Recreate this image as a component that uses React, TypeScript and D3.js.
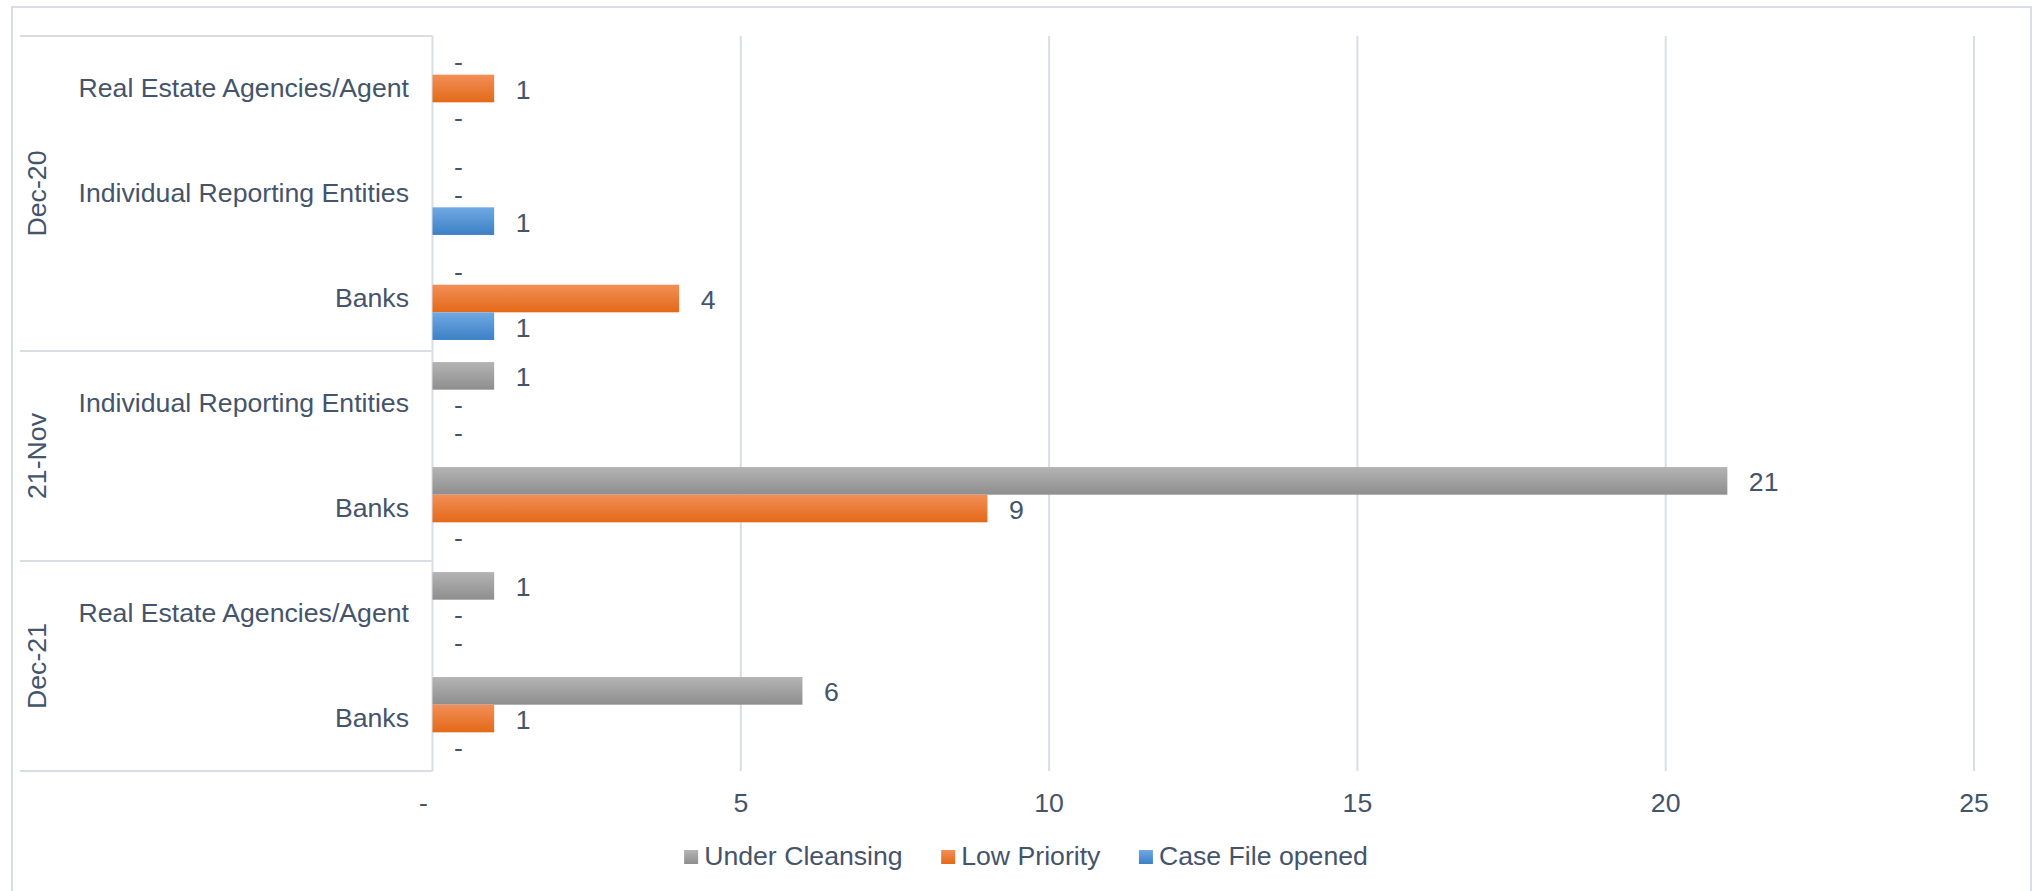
import React from "react";
import * as d3 from "d3";

const groups = ["Dec-20", "Dec-20", "Dec-20", "21-Nov", "21-Nov", "Dec-21", "Dec-21"];
const subCategories = [
  "Real Estate Agencies/Agent",
  "Individual Reporting Entities",
  "Banks",
  "Individual Reporting Entities",
  "Banks",
  "Real Estate Agencies/Agent",
  "Banks",
];
const underCleansing = [0, 0, 0, 1, 21, 1, 6];
const lowPriority = [1, 0, 4, 0, 9, 0, 1];
const caseFileOpened = [0, 1, 1, 0, 0, 0, 0];
const seriesNames = ["Under Cleansing", "Low Priority", "Case File opened"];
const xTicks = [0, 5, 10, 15, 20, 25];

const W = 2038;
const H = 891;
const FONT = "'Liberation Sans', Arial, Helvetica, sans-serif";
const FS = 26.67;
const TEXT = "#44546A";
const LINE = "#D9DEE5";

const gradients = [
  { id: "gUC", top: "#B4B4B4", bottom: "#8E8E8E" },
  { id: "gLP", top: "#F28F57", bottom: "#E36918" },
  { id: "gCF", top: "#70A9E3", bottom: "#3C80C6" },
];

function measure(text: string): number {
  if (typeof document === "undefined") return text.length * FS * 0.5;
  const c = document.createElement("canvas").getContext("2d");
  if (!c) return text.length * FS * 0.5;
  c.font = `${FS}px ${FONT}`;
  return c.measureText(text).width;
}

export default function App() {
  const plotTop = 36;
  const plotBottom = 771;
  const x = d3.scaleLinear().domain([0, 25]).range([432.5, 1974]);
  const idx = d3.range(subCategories.length).map(String);
  const y = d3.scaleBand().domain(idx).range([plotTop, plotBottom]).padding(0);
  const inner = d3
    .scaleBand()
    .domain(seriesNames)
    .range([0, y.bandwidth()])
    .paddingInner(0)
    .paddingOuter(0.4);

  const seriesValues = [underCleansing, lowPriority, caseFileOpened];

  // group spans
  const groupSpans: { name: string; start: number; end: number }[] = [];
  groups.forEach((g, i) => {
    const last = groupSpans[groupSpans.length - 1];
    if (last && last.name === g) last.end = i;
    else groupSpans.push({ name: g, start: i, end: i });
  });
  const sepYs = [plotTop, ...groupSpans.map((s) => (y(String(s.end)) as number) + y.bandwidth())];

  // legend layout
  const sq = 14;
  const sqGap = 6;
  const itemGap = 38.5;
  const widths = seriesNames.map((n) => measure(n));
  const total = widths.reduce((a, w) => a + sq + sqGap + w, 0) + itemGap * (seriesNames.length - 1);
  let lx = 1026 - total / 2;
  const legendItems = seriesNames.map((n, i) => {
    const item = { name: n, x: lx, grad: gradients[i].id };
    lx += sq + sqGap + widths[i] + itemGap;
    return item;
  });

  return (
    <svg
      width={W}
      height={H}
      style={{ position: "absolute", left: 0, top: 0, background: "#fff" }}
      fontFamily={FONT}
      fontSize={FS}
    >
      <defs>
        {gradients.map((g) => (
          <linearGradient key={g.id} id={g.id} x1="0" y1="0" x2="0" y2="1">
            <stop offset="0" stopColor={g.top} />
            <stop offset="1" stopColor={g.bottom} />
          </linearGradient>
        ))}
      </defs>
      <rect x={0} y={0} width={W} height={H} fill="#fff" />
      {/* outer chart border */}
      <rect x={12} y={7} width={2019} height={890} fill="none" stroke={LINE} strokeWidth={2} />

      {/* gridlines */}
      {xTicks.slice(1).map((t) => (
        <line key={t} x1={x(t)} x2={x(t)} y1={plotTop} y2={plotBottom} stroke={LINE} strokeWidth={2} />
      ))}
      {/* category axis line */}
      <line x1={x(0)} x2={x(0)} y1={plotTop} y2={plotBottom} stroke={LINE} strokeWidth={2} />
      {/* group separators */}
      {sepYs.map((sy, i) => (
        <line key={i} x1={20} x2={x(0)} y1={sy} y2={sy} stroke={LINE} strokeWidth={2} />
      ))}

      {/* bars */}
      {subCategories.map((_, ci) =>
        seriesNames.map((s, si) => {
          const v = seriesValues[si][ci];
          const by = (y(String(ci)) as number) + (inner(s) as number);
          const bh = inner.bandwidth();
          return (
            <g key={`${ci}-${si}`}>
              {v > 0 && (
                <rect x={x(0)} y={by} width={x(v) - x(0)} height={bh} fill={`url(#${gradients[si].id})`} />
              )}
              <text x={x(v) + 21.5} y={by + bh / 2} dy="0.39em" fill={TEXT} textAnchor="start">
                {v === 0 ? "-" : String(v)}
              </text>
            </g>
          );
        })
      )}

      {/* sub category labels */}
      {subCategories.map((c, ci) => (
        <text
          key={ci}
          x={409}
          y={(y(String(ci)) as number) + y.bandwidth() / 2}
          dy="0.33em"
          textAnchor="end"
          fill={TEXT}
        >
          {c}
        </text>
      ))}

      {/* group labels */}
      {groupSpans.map((g) => {
        const cy =
          ((y(String(g.start)) as number) + (y(String(g.end)) as number) + y.bandwidth()) / 2;
        return (
          <text
            key={g.name}
            transform={`translate(46,${cy}) rotate(-90)`}
            textAnchor="middle"
            fill={TEXT}
          >
            {g.name}
          </text>
        );
      })}

      {/* x tick labels */}
      {xTicks.map((t) => (
        <text key={t} x={x(t)} dx={t === 0 ? -9 : 0} y={812} textAnchor="middle" fill={TEXT}>
          {t === 0 ? "-" : String(t)}
        </text>
      ))}

      {/* legend */}
      {legendItems.map((it) => (
        <g key={it.name}>
          <rect x={it.x} y={850} width={sq} height={sq} fill={`url(#${it.grad})`} />
          <text x={it.x + sq + sqGap} y={865} fill={TEXT}>
            {it.name}
          </text>
        </g>
      ))}
    </svg>
  );
}
